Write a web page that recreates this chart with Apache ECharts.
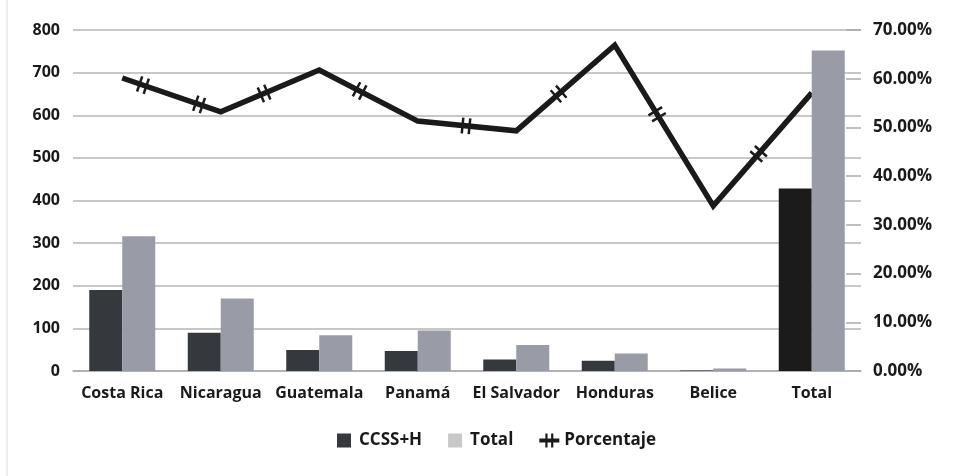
<!DOCTYPE html>
<html>
<head>
<meta charset="utf-8">
<script src="https://cdn.jsdelivr.net/npm/echarts@6/dist/echarts.min.js"></script>
<style>
	html, body { margin: 0; padding: 0; background: #fff; }
	#myChart { width: 955px; height: 476px; }
</style>
</head>
<body>
<div id="myChart"></div>
<script>
	// datos
	var categories = ['Costa Rica', 'Nicaragua', 'Guatemala', 'Panamá', 'El Salvador', 'Honduras', 'Belice', 'Total'];
	var ccss = [190, 90, 49, 47, 27, 24, 1, 428];
	var total = [316, 170, 84, 95, 61, 41, 6, 752];
	var porcentaje = [0.6015, 0.532, 0.618, 0.513, 0.493, 0.669, 0.339, 0.571];

	// posicion de las marcas "||" sobre cada tramo de la linea (solo decoracion)
	var markPos = [[0.21, 0.78], [0.44], [0.41], [0.49], [0.43], [0.43], [0.46]];

	var textColor = '#1a1a1a';
	var font = '"Open Sans", sans-serif';

	var myChart = echarts.init(document.getElementById('myChart'));

	function renderMarks(params, api) {
		var i = api.value(0);
		var p0 = api.coord([i, porcentaje[i]]);
		var p1 = api.coord([i + 1, porcentaje[i + 1]]);
		var dx = p1[0] - p0[0], dy = p1[1] - p0[1];
		var len = Math.sqrt(dx * dx + dy * dy);
		var ux = dx / len, uy = dy / len; // direccion
		var nx = -uy, ny = ux; // normal
		var children = [];
		(markPos[i] || []).forEach(function(t) {
			var cx = p0[0] + dx * t, cy = p0[1] + dy * t;
			[-3.5, 3.5].forEach(function(off) {
				var mx = cx + ux * off, my = cy + uy * off;
				children.push({
					type: 'line',
					shape: { x1: mx - nx * 8, y1: my - ny * 8, x2: mx + nx * 8, y2: my + ny * 8 },
					style: { stroke: textColor, lineWidth: 2.5 }
				});
			});
		});
		return { type: 'group', children: children };
	}

	var option = {
		backgroundColor: '#fff',
		animation: false,
		textStyle: { fontFamily: font },
		graphic: [{
			type: 'line',
			shape: { x1: 7, y1: 0, x2: 7, y2: 476 },
			style: { stroke: '#dcdcdc', lineWidth: 1 }
		}],
		grid: {
			left: 73,
			right: 94,
			top: 30,
			bottom: 105
		},
		legend: {
			bottom: 22,
			left: 332,
			itemWidth: 20,
			itemHeight: 14,
			itemGap: 26,
			textStyle: { color: textColor, fontSize: 17, fontWeight: 'bold', fontFamily: font },
			data: [
				{ name: 'CCSS+H', icon: 'path://M0,0H14V14H0Z', itemStyle: { color: '#35383c' } },
				{ name: 'Total', icon: 'path://M0,0H14V14H0Z', itemStyle: { color: '#c8c8c8' } },
				{ name: 'Porcentaje', icon: 'path://M0,5H20V9H0Z M6,0H8.2V14H6Z M11.8,0H14V14H11.8Z', itemStyle: { color: textColor } }
			]
		},
		xAxis: {
			type: 'category',
			data: categories,
			axisLine: { show: true, lineStyle: { color: '#aaaaaa', width: 1.5 } },
			axisTick: { show: false },
			axisLabel: {
				color: textColor,
				fontSize: 16,
				fontWeight: 'bold',
				margin: 14,
				interval: 0
			}
		},
		yAxis: [{
			type: 'value',
			min: 0,
			max: 800,
			interval: 100,
			axisLine: { show: false },
			axisTick: { show: false },
			splitLine: { lineStyle: { color: '#b4b4b4', width: 1.5 } },
			axisLabel: { color: textColor, fontSize: 16, fontWeight: 'bold', margin: 13 }
		}, {
			type: 'value',
			min: 0,
			max: 0.7,
			interval: 0.1,
			axisLine: { show: false },
			axisTick: { show: true, inside: true, length: 15, lineStyle: { color: '#aaaaaa', width: 1.5 } },
			splitLine: { show: false },
			axisLabel: {
				color: textColor,
				fontSize: 17,
				fontWeight: 'bold',
				margin: 12,
				formatter: function(v) { return (v * 100).toFixed(2) + '%'; }
			}
		}],
		series: [{
			name: 'CCSS+H',
			type: 'bar',
			barWidth: 33,
			barGap: '0%',
			itemStyle: { color: '#35383c' },
			data: ccss.map(function(v, i) {
				return i === ccss.length - 1 ? { value: v, itemStyle: { color: '#1b1b1b' } } : v;
			})
		}, {
			name: 'Total',
			type: 'bar',
			barWidth: 33,
			itemStyle: { color: '#999ba7' },
			data: total
		}, {
			name: 'Porcentaje',
			type: 'line',
			yAxisIndex: 1,
			symbol: 'none',
			z: 1,
			lineStyle: { color: textColor, width: 5.5, join: 'miter' },
			itemStyle: { color: textColor },
			data: porcentaje
		}, {
			name: 'marcas',
			type: 'custom',
			yAxisIndex: 1,
			z: 1,
			renderItem: renderMarks,
			encode: { x: 0, y: 1 },
			data: porcentaje.slice(0, -1).map(function(v, i) { return [i, v]; })
		}]
	};

	myChart.setOption(option);
</script>
</body>
</html>
